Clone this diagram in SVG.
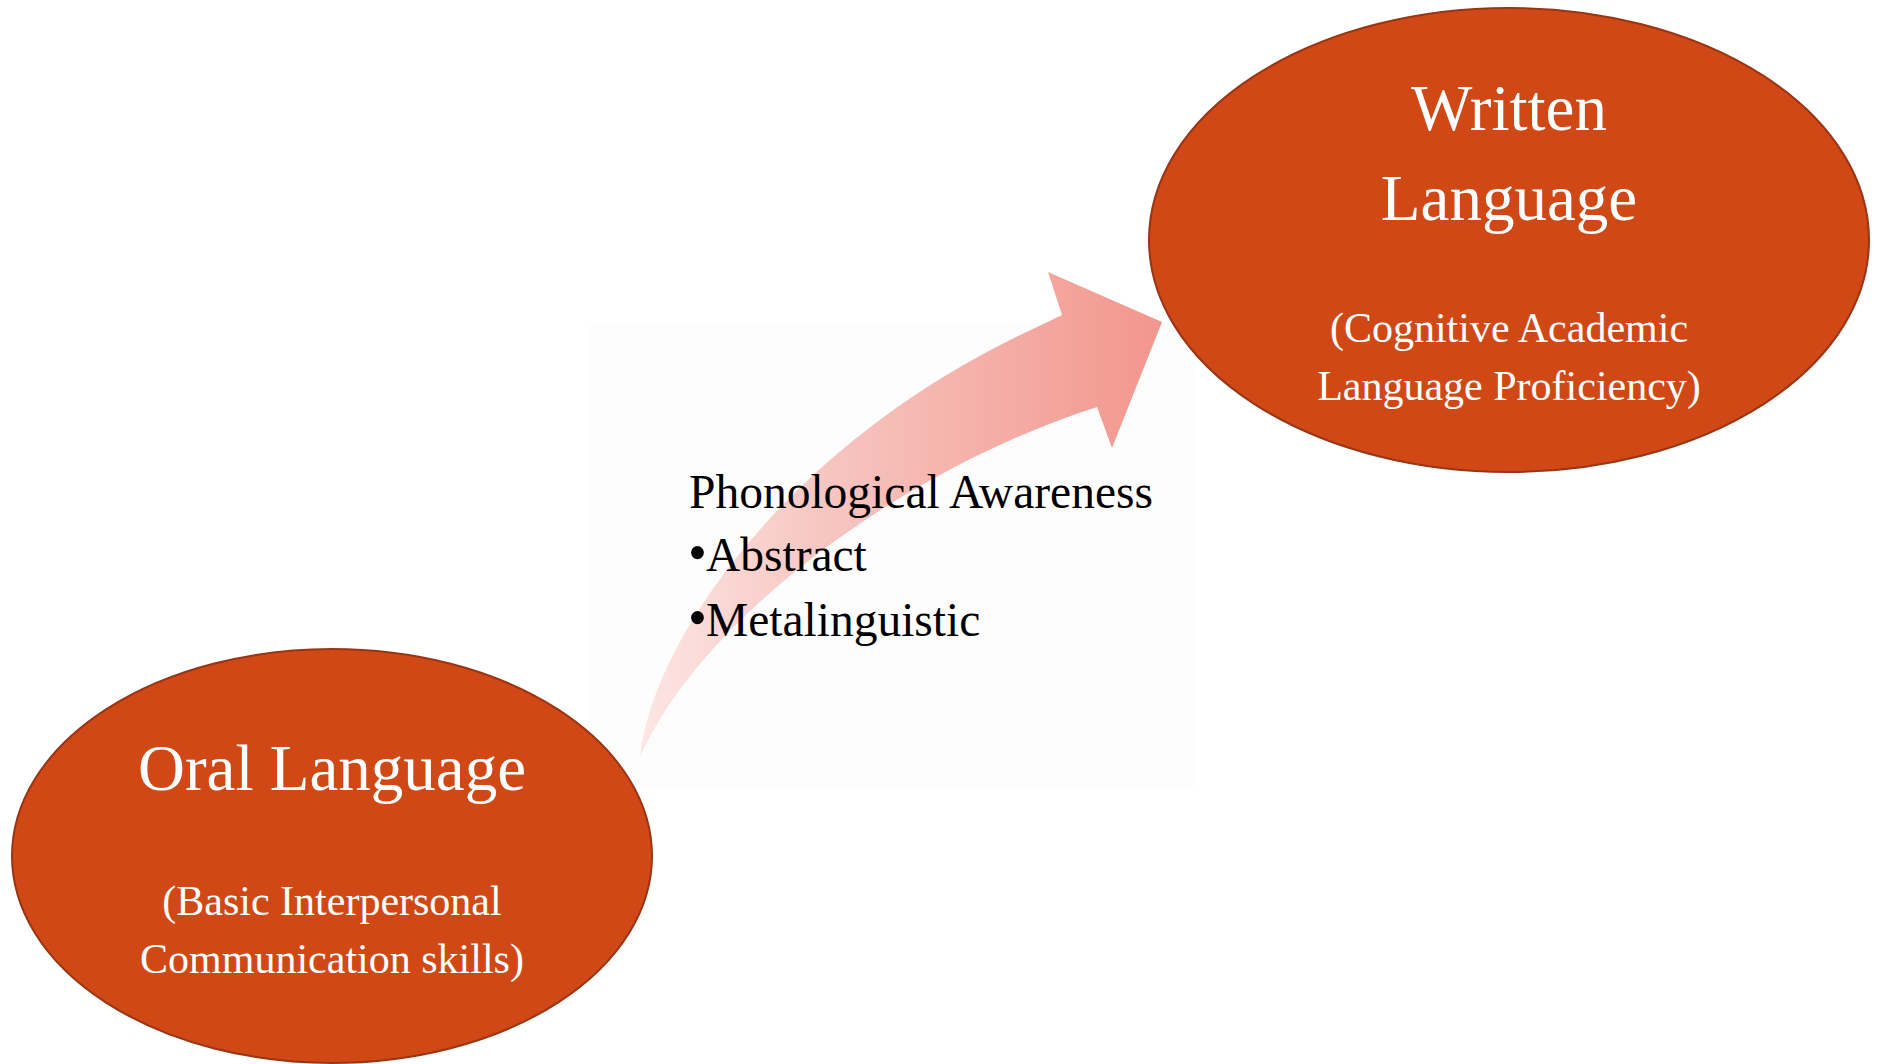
<svg xmlns="http://www.w3.org/2000/svg" width="1881" height="1064" viewBox="0 0 1881 1064">
  <style>
    .node { fill: #D14817; stroke: #9A3412; stroke-width: 2; }
    .title { font-family: "Liberation Serif", "DejaVu Serif", serif; font-size: 65px; fill: #ffffff; text-anchor: middle; }
    .sub { font-family: "Liberation Serif", "DejaVu Serif", serif; font-size: 42px; fill: #ffffff; text-anchor: middle; }
    .label { font-family: "Liberation Serif", "DejaVu Serif", serif; font-size: 47.5px; fill: #000000; }
    .bullet { font-size: 54px; }
  </style>
  <defs>
    <linearGradient id="arrowGrad" gradientUnits="userSpaceOnUse" x1="640" y1="0" x2="1162" y2="0">
      <stop offset="0" stop-color="#fce6e4"/>
      <stop offset="0.35" stop-color="#f7c6c1"/>
      <stop offset="1" stop-color="#f2968c"/>
    </linearGradient>
  </defs>
  <rect x="0" y="0" width="1881" height="1064" fill="#ffffff"/>
  <rect x="588" y="324" width="608" height="464" fill="#fdfdfd"/>
  <g id="connectors">
    <path d="M 640 757 C 652 640, 790 440, 1037 327 L 1062 315 L 1048 272 L 1162 322 L 1112 448 L 1097 407 C 900 470, 700 620, 640 757 Z" fill="url(#arrowGrad)"/>
  </g>
  <g id="label-phonological">
    <text class="label" x="689" y="508">Phonological Awareness</text>
    <text class="label" x="688" y="571"><tspan class="bullet">•</tspan><tspan dx="-1">Abstract</tspan></text>
    <text class="label" x="688" y="636"><tspan class="bullet">•</tspan><tspan dx="-1">Metalinguistic</tspan></text>
  </g>
  <g id="node-oral">
    <ellipse class="node" cx="332" cy="856" rx="320" ry="207"/>
    <text class="title" x="332" y="790">Oral Language</text>
    <text class="sub" x="332" y="915">(Basic Interpersonal</text>
    <text class="sub" x="332" y="973">Communication skills)</text>
  </g>
  <g id="node-written">
    <ellipse class="node" cx="1509" cy="240" rx="360" ry="232"/>
    <text class="title" x="1509" y="130">Written</text>
    <text class="title" x="1509" y="220">Language</text>
    <text class="sub" x="1509" y="342">(Cognitive Academic</text>
    <text class="sub" x="1509" y="400">Language Proficiency)</text>
  </g>
</svg>
